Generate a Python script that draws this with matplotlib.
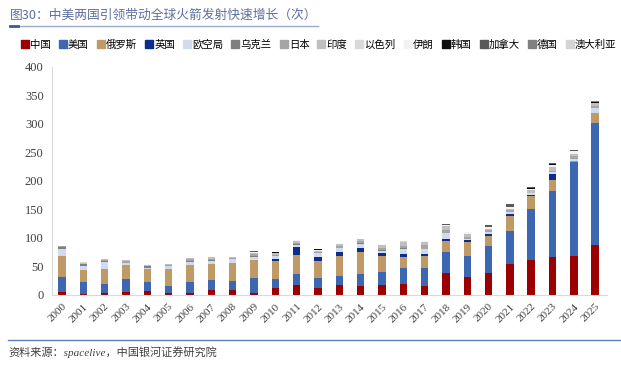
import numpy as np
import matplotlib
matplotlib.use("Agg")
import matplotlib.pyplot as plt
from matplotlib.lines import Line2D

plt.rcParams['font.family'] = ['Noto Sans CJK SC', 'DejaVu Sans']

years = [str(y) for y in range(2000, 2026)]

# launches per country
china = [5, 1, 4, 6, 7, 4, 4, 8, 9, 4, 13, 18, 12, 18, 15, 18, 20, 16, 38, 32, 39, 54, 62, 66, 68, 88]
usa = [27, 22, 16, 22, 15, 12, 19, 19, 15, 25, 15, 18, 18, 15, 22, 22, 27, 32, 37, 36, 47, 59, 89, 117, 165, 213]
russia = [36, 21, 26, 25, 23, 29, 29, 27, 33, 33, 32, 35, 30, 35, 39, 29, 19, 21, 20, 25, 17, 25, 22, 19, 2, 19]
uk = [0, 0, 0, 0, 0, 0, 0, 0, 0, 0, 3, 13, 7, 8, 6, 4, 6, 3, 4, 3, 4, 4, 3, 10, 0, 0]
esa = [13, 7, 12, 3, 3, 5, 6, 6, 6, 5, 5, 4, 6, 6, 8, 5, 8, 8, 9, 3, 3, 4, 3, 4, 3, 8]
ukraine = [3, 3, 1, 1, 3, 1, 1, 1, 1, 2, 1, 1, 1, 1, 1, 1, 2, 1, 0, 0, 0, 0, 0, 0, 0, 0]
japan = [2, 1, 3, 3, 0, 2, 5, 2, 1, 3, 2, 3, 2, 3, 4, 4, 4, 7, 6, 2, 4, 3, 0, 2, 5, 3]
india = [0, 2, 1, 2, 1, 1, 1, 3, 2, 2, 3, 3, 2, 3, 4, 4, 7, 5, 7, 6, 2, 2, 5, 7, 5, 5]
israel = [0, 1, 0, 0, 1, 0, 0, 0, 0, 0, 0, 0, 0, 0, 0, 0, 1, 0, 0, 0, 0, 0, 0, 0, 0, 0]
iran = [0, 0, 0, 0, 0, 0, 0, 0, 0, 1, 0, 1, 1, 0, 0, 0, 0, 2, 1, 3, 4, 3, 2, 3, 4, 1]
korea = [0, 0, 0, 0, 0, 0, 0, 0, 0, 1, 1, 0, 1, 0, 0, 0, 0, 0, 0, 0, 0, 1, 2, 2, 1, 1]
canada = [0, 0, 0, 0, 0, 0, 0, 0, 0, 1, 0, 0, 0, 0, 0, 0, 0, 0, 2, 1, 2, 4, 2, 2, 2, 1]
germany = [0, 0, 0, 0, 0, 0, 0, 0, 0, 0, 0, 0, 0, 0, 0, 0, 0, 0, 0, 0, 0, 0, 0, 0, 0, 1]
australia = [0, 0, 0, 0, 0, 0, 0, 0, 0, 0, 0, 0, 0, 0, 0, 0, 0, 0, 0, 0, 0, 0, 0, 0, 0, 1]

series = [
    ('中国', china, '#9b0000'),
    ('美国', usa, '#3d67b1'),
    ('俄罗斯', russia, '#bf9a67'),
    ('英国', uk, '#0d2d8c'),
    ('欧空局', esa, '#cfdcf0'),
    ('乌克兰', ukraine, '#7f7f7f'),
    ('日本', japan, '#a5a5a5'),
    ('印度', india, '#bfbfbf'),
    ('以色列', israel, '#d9d9d9'),
    ('伊朗', iran, '#f2f2f2'),
    ('韩国', korea, '#0d0d0d'),
    ('加拿大', canada, '#595959'),
    ('德国', germany, '#808080'),
    ('澳大利亚', australia, '#d4d4d4'),
]

fig = plt.figure(figsize=(6.21, 3.65), dpi=100)
ax = fig.add_axes([0.0837, 0.1918, 0.894, 0.6247])

x = np.arange(len(years))
bottom = np.zeros(len(years))
handles = []
for name, vals, col in series:
    ax.bar(x, vals, 0.35, bottom=bottom, color=col, linewidth=0)
    bottom += np.array(vals)
    handles.append(Line2D([], [], marker='s', linestyle='none', markersize=5.5,
                          markerfacecolor=col, markeredgecolor=col, label=name))

ax.set_xlim(-0.47, 25.56)
ax.set_ylim(0, 400)
ax.set_yticks(range(0, 401, 50))
ax.set_xticks(x)
ax.set_xticklabels(years, rotation=45, ha='right', va='top', rotation_mode='anchor',
                   fontsize=8, family='Liberation Serif', color='#404040')
for lab in ax.get_yticklabels():
    lab.set_family('Liberation Serif')
    lab.set_fontsize(9)
    lab.set_color('#404040')
ax.tick_params(length=0, pad=6)
ax.tick_params(axis='x', pad=5)
for s in ['top', 'right']:
    ax.spines[s].set_visible(False)
for s in ['left', 'bottom']:
    ax.spines[s].set_color('#d9d9d9')
    ax.spines[s].set_linewidth(0.8)

fig.legend(handles=handles, loc='center', bbox_to_anchor=(0.513, 0.877), ncol=14,
           frameon=False, fontsize=7.5, handlelength=0.8, handletextpad=0.1,
           columnspacing=0.75, borderaxespad=0)

# title and header line
fig.text(10 / 621, 1 - 15 / 365, '图30：中美两国引领带动全球火箭发射快速增长（次）',
         fontsize=9.2, color='#5d6f9c', va='center', ha='left')
fig.add_artist(Line2D([10 / 621, 318 / 621], [1 - 26 / 365] * 2, color='#9aabcc', lw=1))
fig.add_artist(Line2D([10 / 621, 18 / 621], [1 - 26 / 365] * 2, color='#3b5a9a', lw=2))

# footer
fig.add_artist(Line2D([8 / 621, 1], [1 - 340 / 365] * 2, color='#5b7fbf', lw=1))
fig.text(8 / 621, 1 - 352 / 365, '资料来源：spacelive，中国银河证券研究院',
         fontsize=8, color='#404040', style='italic', va='center', ha='left',
         family=['Liberation Serif', 'Noto Sans CJK SC'])

fig.savefig('out.png', dpi=100)
